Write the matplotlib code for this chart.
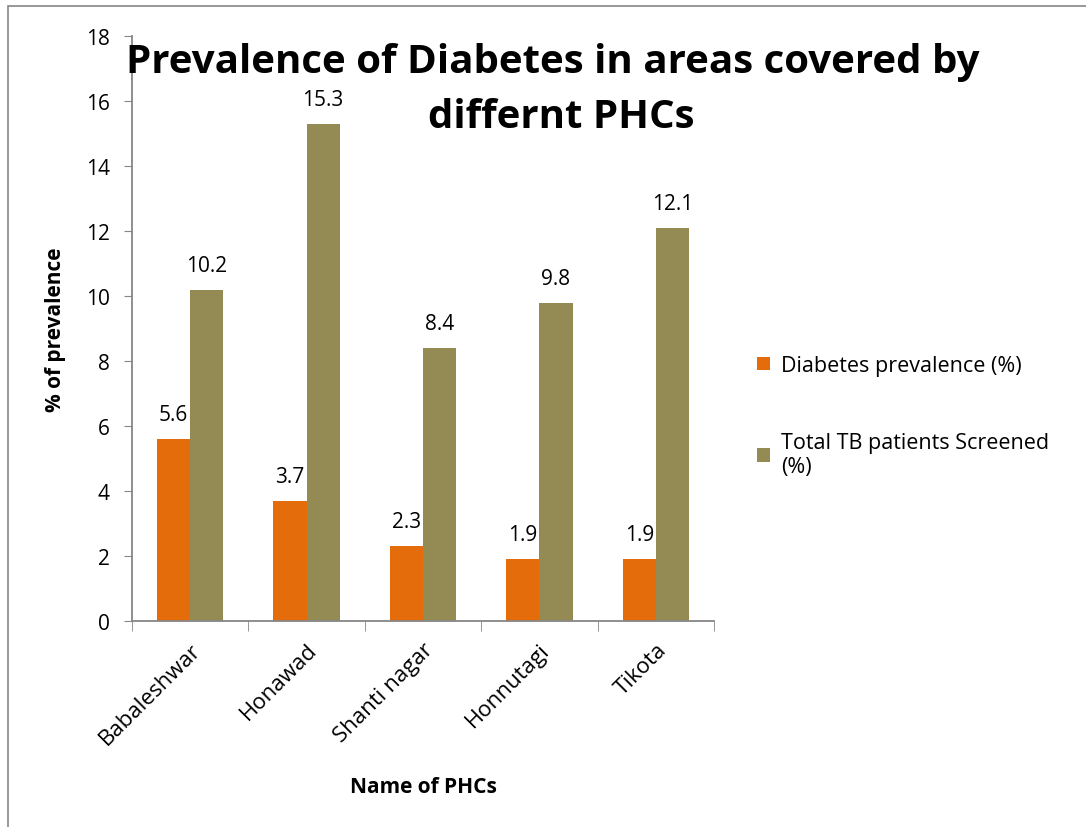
import numpy as np
import matplotlib.pyplot as plt
from matplotlib.patches import Rectangle

# PHC names and the two series (%)
phcs = ['Babaleshwar', 'Honawad', 'Shanti nagar', 'Honnutagi', 'Tikota']
diabetes = [5.6, 3.7, 2.3, 1.9, 1.9]
tb_screened = [10.2, 15.3, 8.4, 9.8, 12.1]
yticks = [0, 2, 4, 6, 8, 10, 12, 14, 16, 18]

plt.rcParams['font.family'] = ['Open Sans', 'DejaVu Sans']

W, H = 1086, 828
fig = plt.figure(figsize=(W / 100, H / 100), dpi=100)

# outer chart frame (right and bottom edges fall off the canvas)
fig.patches.append(Rectangle((8 / W, -0.05), 1.2, 1 - 7 / H + 0.05,
                             transform=fig.transFigure, fill=False,
                             edgecolor='#868686', linewidth=1.2))

ax = fig.add_axes([132 / W, 1 - 622 / H, (714 - 132) / W, (622 - 37) / H])

x = np.arange(len(phcs))
bw = 0.285
b1 = ax.bar(x - bw / 2, diabetes, bw, color='#E46C0A', label='Diabetes prevalence (%)')
b2 = ax.bar(x + bw / 2, tb_screened, bw, color='#948A54',
            label='Total TB patients Screened\n(%)')

for bars, vals in ((b1, diabetes), (b2, tb_screened)):
    for r, v in zip(bars, vals):
        ax.annotate('{}'.format(v), (r.get_x() + r.get_width() / 2, v),
                    xytext=(0, 10), textcoords='offset points',
                    ha='center', va='bottom', fontsize=15)

ax.set_xlim(-0.5, len(phcs) - 0.5)
ax.set_ylim(0, 18)
ax.set_yticks(yticks)
ax.set_yticklabels([str(t) for t in yticks], fontsize=15)
ax.set_xticks(x)
ax.set_xticklabels(phcs, rotation=45, ha='right', rotation_mode='anchor', fontsize=16)
ax.set_xticks(np.arange(-0.5, len(phcs)), minor=True)
ax.tick_params(axis='x', which='major', length=0, pad=13)
ax.tick_params(axis='x', which='minor', length=7, color='#868686', direction='out')
ax.tick_params(axis='y', length=6, color='#868686', direction='out', pad=10)

for s in ('top', 'right'):
    ax.spines[s].set_visible(False)
for s in ('left', 'bottom'):
    ax.spines[s].set_color('#868686')
    ax.spines[s].set_linewidth(1.3)

ax.set_ylabel('% of prevalence', fontsize=15, fontweight='bold', labelpad=14)
ax.set_xlabel('Name of PHCs', fontsize=15, fontweight='bold', labelpad=20)

fig.text(553 / W, 1 - 62 / H, 'Prevalence of Diabetes in areas covered by',
         ha='center', va='center', fontsize=29, fontweight='bold')
fig.text(561 / W, 1 - 118 / H, 'differnt PHCs',
         ha='center', va='center', fontsize=29, fontweight='bold')

ax.legend(loc='center left', bbox_to_anchor=(1.041, 0.35), frameon=False,
          fontsize=15.5, handlelength=0.6, handleheight=0.6, labelspacing=2.6,
          handletextpad=0.5)

fig.savefig('out.png', dpi=100)
